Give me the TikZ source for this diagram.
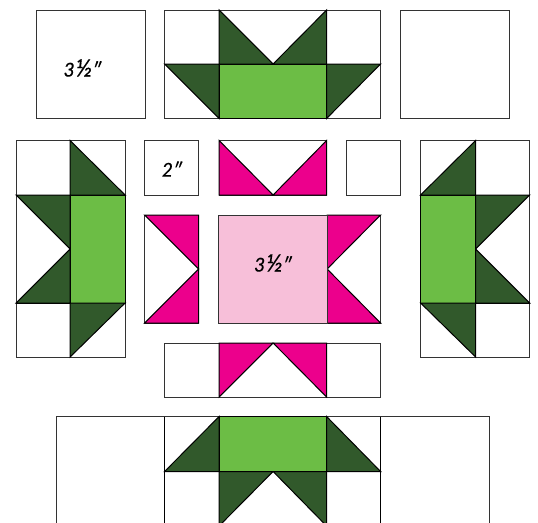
\documentclass[tikz,border=0pt]{standalone}
\usepackage{fontspec}
\setmainfont{Lato}[ItalicFeatures={FakeBold=0.4}]
\definecolor{dk}{HTML}{31592B}
\definecolor{lg}{HTML}{6CBD45}
\definecolor{pk}{HTML}{EC008C}
\definecolor{lp}{HTML}{F7BFD9}
\newcommand{\bighalf}{{\fontsize{24}{24}\selectfont ½}}
\tikzset{
  patch/.style={draw=black,line width=1pt,line join=miter},
  plain/.style={patch,draw=black!80,line width=0.95pt,fill=white},
  dark/.style={patch,fill=dk},
  light/.style={patch,fill=lg},
  hot/.style={patch,fill=pk},
  soft/.style={patch,draw=black!80,fill=lp},
  size/.style={font=\itshape\fontsize{19}{19}\selectfont,inner sep=0pt}
}
\begin{document}
\begin{tikzpicture}[x=1pt,y=-1pt]
\useasboundingbox (0,0) rectangle (538,522);
\clip (0,0) rectangle (538,522);
\begin{scope}[xshift=-0.4pt]
% top row
\draw[plain] (36.5,10) rectangle (145.5,118.5);
\draw[plain] (401,10) rectangle (510,118.5);
\draw[plain] (165,10) rectangle (381,118.5);
\draw[patch] (165,64) -- (381,64);
\draw[patch] (219.5,10) -- (219.5,118.5) (327,10) -- (327,118.5);
\draw[light] (219.5,64) rectangle (327,118.5);
\draw[dark] (219.5,10) -- (273.5,64) -- (219.5,64) -- cycle;
\draw[dark] (327,10) -- (273.5,64) -- (327,64) -- cycle;
\draw[dark] (165,64) -- (219.5,64) -- (219.5,118.5) -- cycle;
\draw[dark] (381,64) -- (327,64) -- (327,118.5) -- cycle;
% left block
\draw[plain] (16.5,140.5) rectangle (125.5,357);
\draw[patch] (16.5,195) -- (125.5,195) (16.5,303) -- (125.5,303) (70.5,140.5) -- (70.5,357);
\draw[light] (70.5,195) rectangle (125.5,303);
\draw[dark] (70.5,140.5) -- (125.5,195) -- (70.5,195) -- cycle;
\draw[dark] (16.5,195) -- (70.5,195) -- (70.5,249) -- cycle;
\draw[dark] (16.5,303) -- (70.5,303) -- (70.5,249) -- cycle;
\draw[dark] (70.5,303) -- (125.5,303) -- (70.5,357) -- cycle;
% right block
\draw[plain] (421,140.5) rectangle (530,357);
\draw[patch] (421,195) -- (530,195) (421,303) -- (530,303) (476,140.5) -- (476,357);
\draw[light] (421,195) rectangle (476,303);
\draw[dark] (476,140.5) -- (421,195) -- (476,195) -- cycle;
\draw[dark] (530,195) -- (476,195) -- (476,249) -- cycle;
\draw[dark] (530,303) -- (476,303) -- (476,249) -- cycle;
\draw[dark] (476,303) -- (421,303) -- (476,357) -- cycle;
% small squares
\draw[plain] (145,140.5) rectangle (199,195);
\draw[plain] (347,140.5) rectangle (401,195);
% centre top unit
\draw[plain] (219.5,140.5) rectangle (327,195);
\draw[hot] (219.5,140.5) -- (273.5,195) -- (219.5,195) -- cycle;
\draw[hot] (327,140.5) -- (273.5,195) -- (327,195) -- cycle;
% centre left unit
\draw[plain] (145,215) rectangle (199,323);
\draw[hot] (145,215) -- (199,215) -- (199,269) -- cycle;
\draw[hot] (145,323) -- (199,323) -- (199,269) -- cycle;
% centre right unit
\draw[plain] (327.5,215) rectangle (381,323);
\draw[hot] (381,215) -- (327.5,215) -- (327.5,269) -- cycle;
\draw[hot] (381,323) -- (327.5,323) -- (327.5,269) -- cycle;
% centre
\draw[soft] (219,215) rectangle (327.5,323);
% centre bottom unit
\draw[plain] (165,343) rectangle (381,397);
\draw[patch] (219.5,343) -- (219.5,397) (327,343) -- (327,397);
\draw[hot] (219.5,343) -- (273.5,343) -- (219.5,397) -- cycle;
\draw[hot] (327,343) -- (273.5,343) -- (327,397) -- cycle;
% bottom row
\draw[plain] (56.5,416.5) rectangle (490,540);
\draw[patch] (165,416.5) -- (165,540) (381,416.5) -- (381,540) (165,471.5) -- (381,471.5) (219.5,471.5) -- (219.5,540) (327,471.5) -- (327,540);
\draw[light] (219.5,416.5) rectangle (327,471.5);
\draw[dark] (165,471.5) -- (219.5,416.5) -- (219.5,471.5) -- cycle;
\draw[dark] (381,471.5) -- (327,416.5) -- (327,471.5) -- cycle;
\draw[dark] (219.5,471.5) -- (273.5,471.5) -- (219.5,526) -- cycle;
\draw[dark] (327,471.5) -- (273.5,471.5) -- (327,526) -- cycle;
\end{scope}
% labels
\node[size] (lblA) at (82.5,68) {3\kern1pt\bighalf″};
\node[size] (lblB) at (172,169) {2″};
\node[size] (lblC) at (273,263) {3\kern1pt\bighalf″};
\end{tikzpicture}
\end{document}
